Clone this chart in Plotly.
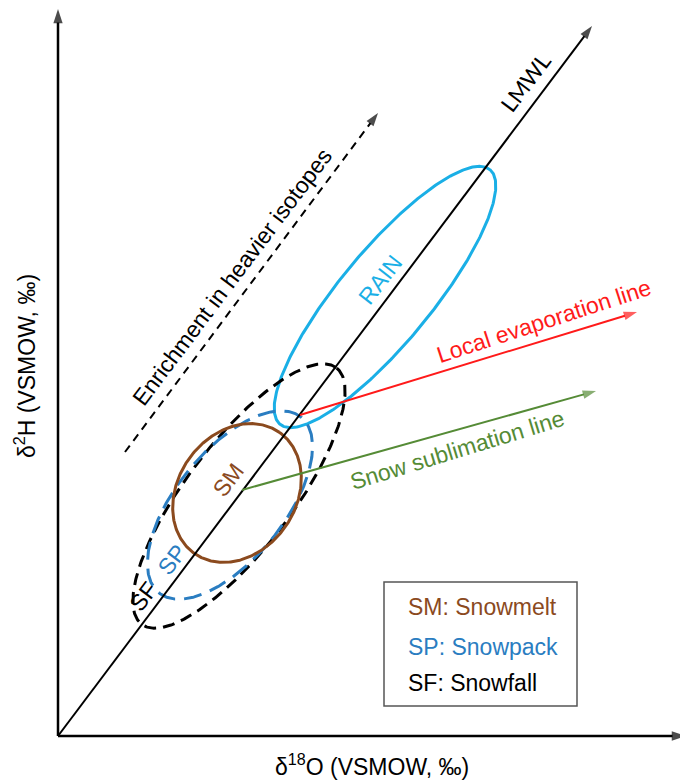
import numpy as np
import plotly.graph_objects as go

# ---- conceptual diagram data (units: delta-space, 1 unit = 1 px) ----
# axes extents
x_axis_end = 628
y_axis_end = 727

# lines: [x_start, y_start, x_end, y_end]
lmwl = [0, 0, 534, 710]
enrich = [67, 284, 320, 623]
evap = [242, 321, 579, 424]
subl = [184, 246, 538, 345]

# ellipses: (cx, cy, semi_major, semi_minor, angle_deg)
ell_names = ["RAIN", "SF", "SP", "SM"]
ell_cx = [327, 181, 172, 179]
ell_cy = [439, 240, 231, 243]
ell_a = [165, 161, 113, 74]
ell_b = [46, 53, 54, 59]
ell_ang = [50.5, 52.8, 51, 55]
ell_col = ["#1AAFE6", "black", "#2A7DC1", "#8B4A1E"]
ell_dash = ["solid", "12px,7px", "18px,9px", "solid"]

# labels: text, x, y, angle, colour
lab_text = ["LMWL", "Enrichment in heavier isotopes", "RAIN", "Local evaporation line",
            "Snow sublimation line", "SM", "SP", "SF"]
lab_x = [467, 174, 322, 486, 399, 170, 114, 85]
lab_y = [654, 459, 456, 415, 286, 256, 176, 139]
lab_ang = [-53, -53, -52, -18, -17, -53, -53, -53]
lab_col = ["black", "black", "#1AAFE6", "#FF1A1A", "#558B36", "#8B4A1E", "#2A7DC1", "black"]

legend_text = ["SM: Snowmelt", "SP: Snowpack", "SF: Snowfall"]
legend_col = ["#8B4A1E", "#2A7DC1", "black"]
legend_y = [129, 89, 53]
legend_box = [326, 30, 519, 154]

FONT = "Liberation Sans, Arial, sans-serif"
FS = 23

fig = go.Figure()

# ellipses
t = np.linspace(0, 2 * np.pi, 400)
for i in range(len(ell_names)):
    th = np.deg2rad(ell_ang[i])
    ex = ell_a[i] * np.cos(t)
    ey = ell_b[i] * np.sin(t)
    xs = ell_cx[i] + ex * np.cos(th) - ey * np.sin(th)
    ys = ell_cy[i] + ex * np.sin(th) + ey * np.cos(th)
    fig.add_trace(go.Scatter(x=xs, y=ys, mode="lines",
                             line=dict(color=ell_col[i], width=3, dash=ell_dash[i]),
                             hoverinfo="skip", showlegend=False))


def arrow(x0, y0, x1, y1, color, width, head, dash="solid"):
    fig.add_trace(go.Scatter(x=[x0, x1], y=[y0, y1], mode="lines+markers",
                             line=dict(color=color, width=width, dash=dash),
                             marker=dict(symbol="arrow", angleref="previous", size=[0, head],
                                         color=color, line=dict(width=0)),
                             cliponaxis=False, hoverinfo="skip", showlegend=False))


# axes
arrow(0, 0, 0, y_axis_end, "black", 2.5, 15)
arrow(0, 0, x_axis_end, 0, "black", 2.5, 15)
arrow(*lmwl, "black", 2, 14)
arrow(*evap, "#FF1A1A", 2, 14)
arrow(*subl, "#558B36", 2, 14)
arrow(*enrich, "black", 2, 14, dash="8px,6px")

annotations = []
for i in range(len(lab_text)):
    annotations.append(dict(x=lab_x[i], y=lab_y[i], xref="x", yref="y", text=lab_text[i],
                            textangle=lab_ang[i], showarrow=False,
                            font=dict(family="Lato, sans-serif" if lab_text[i] == "LMWL" else FONT,
                                      size=22 if lab_text[i] == "LMWL" else FS, color=lab_col[i])))

# axis titles
annotations.append(dict(x=-33, y=370, xref="x", yref="y", text="δ<sup>2</sup>H (VSMOW, ‰)",
                        textangle=-90, showarrow=False, font=dict(family=FONT, size=FS, color="black")))
annotations.append(dict(x=314, y=-29, xref="x", yref="y", text="δ<sup>18</sup>O (VSMOW, ‰)",
                        showarrow=False, font=dict(family=FONT, size=FS, color="black")))

# legend box
for i in range(len(legend_text)):
    annotations.append(dict(x=legend_box[0] + 22, y=legend_y[i], xref="x", yref="y",
                            text=legend_text[i], xanchor="left", showarrow=False,
                            font=dict(family=FONT, size=FS, color=legend_col[i])))

fig.add_shape(type="rect", x0=legend_box[0], y0=legend_box[1], x1=legend_box[2], y1=legend_box[3],
              xref="x", yref="y", line=dict(color="#555555", width=1.5), fillcolor="white", layer="below")

fig.update_layout(
    width=688, height=780,
    margin=dict(l=0, r=0, t=0, b=0),
    paper_bgcolor="white", plot_bgcolor="white",
    xaxis=dict(range=[-50, 638], visible=False, fixedrange=True),
    yaxis=dict(range=[-52, 728], visible=False, fixedrange=True),
    annotations=annotations,
    showlegend=False,
)

fig.write_html("out.html")
